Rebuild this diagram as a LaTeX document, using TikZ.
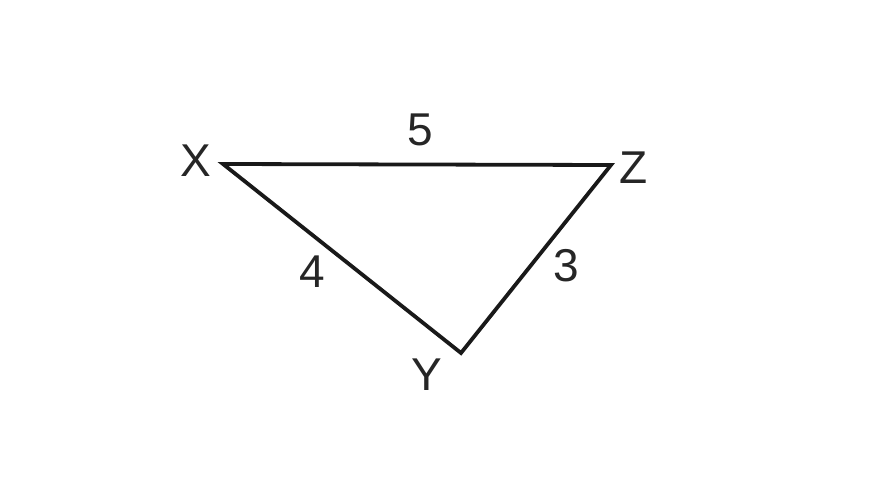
\documentclass[tikz,border=0pt]{standalone}
\usepackage{fontspec}
\setmainfont{Liberation Sans}
\begin{document}
\begin{tikzpicture}[x=1pt,y=-1pt,
  lbl/.style={font=\fontsize{46}{46}\selectfont, text=black!85, inner sep=0pt, anchor=center},
  edge/.style={line width=3.8pt, black!90, line join=miter}]
\useasboundingbox (0,0) rectangle (889,500);
\coordinate (X) at (223,164);
\coordinate (Z) at (611,165);
\coordinate (Y) at (461,353);
\draw[edge] (X) -- (Z) -- (Y) -- cycle;
\node[lbl] (lx) at (196,161) {X};
\node[lbl] (lz) at (634,168) {Z};
\node[lbl] (ly) at (427,375) {Y};
\node[lbl] (l5) at (420,130) {5};
\node[lbl] (l4) at (312,272) {4};
\node[lbl] (l3) at (566,266) {3};
\end{tikzpicture}
\end{document}
